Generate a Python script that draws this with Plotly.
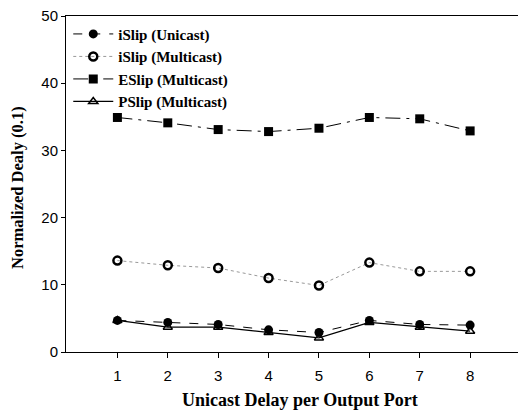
import plotly.graph_objects as go

ports = [1, 2, 3, 4, 5, 6, 7, 8]
islip_unicast = [4.7, 4.4, 4.1, 3.3, 2.9, 4.7, 4.1, 4.0]
islip_multicast = [13.6, 12.9, 12.5, 11.0, 9.9, 13.3, 12.0, 12.0]
eslip_multicast = [34.9, 34.1, 33.1, 32.8, 33.3, 34.9, 34.7, 32.9]
pslip_multicast = [4.7, 3.7, 3.7, 2.9, 2.1, 4.4, 3.7, 3.1]
y_ticks = [0, 10, 20, 30, 40, 50]

fig = go.Figure()
fig.add_trace(go.Scatter(x=ports, y=islip_unicast, name="<b>iSlip (Unicast)</b>", mode="lines+markers",
                         line=dict(color="black", width=1, dash="dash"),
                         marker=dict(symbol="circle", size=9, color="black")))
fig.add_trace(go.Scatter(x=ports, y=islip_multicast, name="<b>iSlip (Multicast)</b>", mode="lines+markers",
                         line=dict(color="#999999", width=1, dash="dot"),
                         marker=dict(symbol="circle-open", size=8, color="black", line=dict(width=2.5, color="black"))))
fig.add_trace(go.Scatter(x=ports, y=eslip_multicast, name="<b>ESlip (Multicast)</b>", mode="lines+markers",
                         line=dict(color="black", width=1, dash="longdashdot"),
                         marker=dict(symbol="square", size=9, color="black")))
fig.add_trace(go.Scatter(x=ports, y=pslip_multicast, name="<b>PSlip (Multicast)</b>", mode="lines+markers",
                         line=dict(color="black", width=1.2),
                         marker=dict(symbol="triangle-up-open", size=8, color="black", line=dict(width=1.5, color="black"))))

fig.update_layout(
    width=518, height=420,
    margin=dict(l=66, r=0, t=16, b=68),
    paper_bgcolor="white", plot_bgcolor="white",
    showlegend=True,
    legend=dict(x=0.005, y=0.995, xanchor="left", yanchor="top", bgcolor="rgba(0,0,0,0)",
                font=dict(family="Liberation Serif", size=15, color="black"),
                tracegroupgap=0, itemwidth=40),
    font=dict(family="Liberation Sans", size=14, color="black"),
    annotations=[
        dict(text="<b>Unicast Delay per Output Port</b>", xref="paper", yref="paper",
             x=0.517, y=-0.144, xanchor="center", yanchor="middle", showarrow=False,
             font=dict(family="Liberation Serif", size=18, color="black")),
        dict(text="<b>Normalized Dealy (0.1)</b>", xref="paper", yref="paper",
             x=-0.107, y=0.49, xanchor="center", yanchor="middle", showarrow=False, textangle=-90,
             font=dict(family="Liberation Serif", size=16.5, color="black")),
    ],
)
fig.update_xaxes(range=[-0.02, 8.95], tickvals=ports, ticks="outside", ticklen=5, tickcolor="black",
                 ticklabelstandoff=5,
                 showline=True, linecolor="black", linewidth=1, mirror=True, showgrid=False, zeroline=False,
                 tickfont=dict(family="Liberation Sans", size=15, color="black"))
fig.update_yaxes(range=[0, 50], tickvals=y_ticks, ticks="outside", ticklen=4, tickcolor="black",
                 showline=True, linecolor="black", linewidth=1, showgrid=False, zeroline=False,
                 tickfont=dict(family="Liberation Sans", size=15, color="black"))

fig.write_html("out.html", config={"displayModeBar": False},
               post_script="document.body.style.margin='0';")
